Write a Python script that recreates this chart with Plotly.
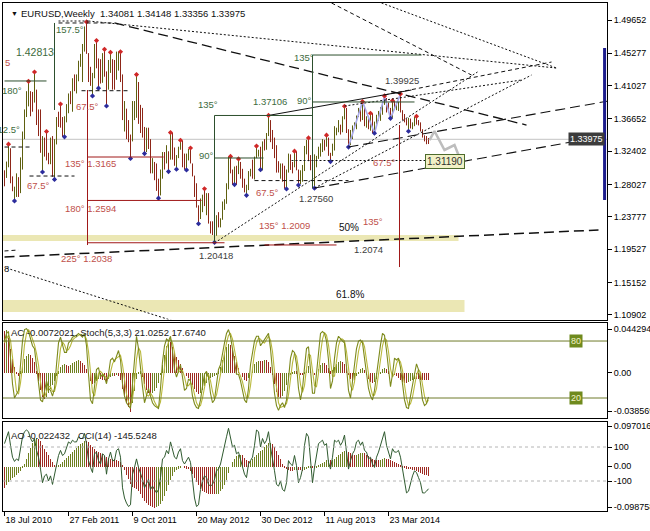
import plotly.graph_objects as go
from datetime import datetime, timedelta

FIRST_WEEK = datetime(2010, 7, 18)
SYMBOL = "EURUSD,Weekly"

opens = [
    1.2935, 1.2905, 1.3055, 1.3275, 1.2855, 1.2715, 1.2755, 1.2895, 1.2710, 1.3050,
    1.3490, 1.3790, 1.3950, 1.3980, 1.3960, 1.3945, 1.4030, 1.3700, 1.3670, 1.3240,
    1.3410, 1.3290, 1.3180, 1.3110, 1.3380, 1.2910, 1.3380, 1.3615, 1.3600, 1.3580,
    1.3500, 1.3690, 1.3750, 1.3990, 1.3900, 1.4180, 1.4090, 1.4230, 1.4430, 1.4430,
    1.4570, 1.4810, 1.4530, 1.4160, 1.4150, 1.4250, 1.4640, 1.4340, 1.4330, 1.4180,
    1.4500, 1.4250, 1.4150, 1.4380, 1.4400, 1.4280, 1.4240, 1.4400, 1.4500, 1.4200,
    1.3650, 1.3790, 1.3500, 1.3380, 1.3380, 1.3890, 1.3900, 1.4150, 1.3780, 1.3750,
    1.3520, 1.3240, 1.3450, 1.3380, 1.3040, 1.3050, 1.2960, 1.2720, 1.2680, 1.2940,
    1.3210, 1.3160, 1.3190, 1.3140, 1.3450, 1.3200, 1.3110, 1.3170, 1.3270, 1.3340,
    1.3090, 1.3080, 1.3200, 1.3240, 1.3080, 1.2920, 1.2780, 1.2510, 1.2410, 1.2510,
    1.2640, 1.2570, 1.2660, 1.2290, 1.2250, 1.2150, 1.2310, 1.2380, 1.2290, 1.2340,
    1.2520, 1.2580, 1.2810, 1.3120, 1.2970, 1.2860, 1.3040, 1.2950, 1.3020, 1.2940,
    1.2830, 1.2710, 1.2750, 1.2980, 1.2990, 1.2930, 1.3160, 1.3190, 1.3220, 1.3070,
    1.3360, 1.3310, 1.3460, 1.3640, 1.3360, 1.3360, 1.3190, 1.3020, 1.3000, 1.3070,
    1.2990, 1.2820, 1.2990, 1.3110, 1.3040, 1.3040, 1.3120, 1.2990, 1.2840, 1.2930,
    1.3000, 1.3220, 1.3340, 1.3120, 1.3010, 1.2830, 1.3070, 1.3140, 1.3280, 1.3280,
    1.3340, 1.3330, 1.3380, 1.3190, 1.3190, 1.3300, 1.3520, 1.3520, 1.3560, 1.3550,
    1.3680, 1.3800, 1.3490, 1.3370, 1.3490, 1.3560, 1.3590, 1.3700, 1.3740, 1.3670,
    1.3740, 1.3590, 1.3670, 1.3540, 1.3680, 1.3490, 1.3630, 1.3690, 1.3740, 1.3800,
    1.3870, 1.3910, 1.3790, 1.3750, 1.3700, 1.3880, 1.3810, 1.3830, 1.3870, 1.3760,
    1.3690, 1.3630, 1.3630, 1.3640, 1.3540, 1.3600, 1.3640, 1.3600, 1.3600, 1.3520,
    1.3430, 1.3420, 1.34081,
]
highs = [
    1.2990, 1.3105, 1.3334, 1.3280, 1.2910, 1.2775, 1.2950, 1.2900, 1.3160, 1.3500,
    1.3790, 1.4030, 1.4160, 1.4030, 1.4020, 1.4282, 1.4050, 1.3790, 1.3790, 1.3440,
    1.3420, 1.3500, 1.3220, 1.3420, 1.3440, 1.3400, 1.3690, 1.3760, 1.3860, 1.3690,
    1.3700, 1.3860, 1.4000, 1.4030, 1.4200, 1.4250, 1.4250, 1.4430, 1.4520, 1.4650,
    1.4880, 1.4940, 1.4530, 1.4350, 1.4270, 1.4650, 1.4695, 1.4460, 1.4450, 1.4530,
    1.4580, 1.4290, 1.4440, 1.4540, 1.4450, 1.4440, 1.4550, 1.4550, 1.4548, 1.4250,
    1.3900, 1.3800, 1.3650, 1.3460, 1.3900, 1.3900, 1.4248, 1.4150, 1.3850, 1.3810,
    1.3560, 1.3550, 1.3550, 1.3400, 1.3150, 1.3100, 1.3080, 1.2880, 1.3000, 1.3230,
    1.3230, 1.3320, 1.3240, 1.3486, 1.3480, 1.3290, 1.3190, 1.3300, 1.3385, 1.3380,
    1.3210, 1.3210, 1.3270, 1.3283, 1.3080, 1.2920, 1.2820, 1.2530, 1.2620, 1.2670,
    1.2748, 1.2690, 1.2690, 1.2320, 1.2320, 1.2320, 1.2400, 1.2440, 1.2360, 1.2580,
    1.2610, 1.2820, 1.3170, 1.3173, 1.3000, 1.3040, 1.3050, 1.3140, 1.3100, 1.3010,
    1.2880, 1.2800, 1.2980, 1.3010, 1.3130, 1.3170, 1.3309, 1.3260, 1.3300, 1.3370,
    1.3400, 1.3480, 1.3711, 1.3650, 1.3520, 1.3420, 1.3320, 1.3110, 1.3080, 1.3080,
    1.3050, 1.3000, 1.3210, 1.3200, 1.3100, 1.3242, 1.3240, 1.3000, 1.2990, 1.3060,
    1.3310, 1.3390, 1.3416, 1.3190, 1.3100, 1.3200, 1.3180, 1.3300, 1.3345, 1.3400,
    1.3390, 1.3452, 1.3420, 1.3220, 1.3340, 1.3570, 1.3550, 1.3650, 1.3590, 1.3700,
    1.3832, 1.3810, 1.3530, 1.3520, 1.3580, 1.3620, 1.3710, 1.3810, 1.3810, 1.3893,
    1.3820, 1.3700, 1.3700, 1.3740, 1.3740, 1.3630, 1.3720, 1.3770, 1.3820, 1.3880,
    1.3967, 1.3940, 1.3880, 1.3810, 1.3905, 1.3900, 1.3870, 1.3890, 1.3993, 1.3780,
    1.3730, 1.3670, 1.3680, 1.3670, 1.3620, 1.3690, 1.3700, 1.3650, 1.3620, 1.3530,
    1.3450, 1.3440, 1.34148,
]
lows = [
    1.2780, 1.2890, 1.3030, 1.2820, 1.2715, 1.2588, 1.2640, 1.2640, 1.2690, 1.3000,
    1.3400, 1.3690, 1.3830, 1.3700, 1.3760, 1.3880, 1.3585, 1.3440, 1.3220, 1.2968,
    1.3170, 1.3120, 1.3070, 1.3070, 1.2905, 1.2870, 1.3330, 1.3560, 1.3550, 1.3430,
    1.3430, 1.3620, 1.3740, 1.3860, 1.3760, 1.4030, 1.4000, 1.4160, 1.4350, 1.4150,
    1.4550, 1.4520, 1.4150, 1.4100, 1.3967, 1.4200, 1.4330, 1.4070, 1.4130, 1.4140,
    1.4220, 1.3835, 1.4050, 1.4270, 1.4050, 1.4050, 1.4180, 1.4300, 1.4150, 1.3650,
    1.3500, 1.3400, 1.3360, 1.3145, 1.3370, 1.3650, 1.3680, 1.3600, 1.3480, 1.3420,
    1.3210, 1.3230, 1.3270, 1.2950, 1.2950, 1.2860, 1.2720, 1.2624, 1.2660, 1.2880,
    1.3000, 1.3080, 1.2973, 1.3130, 1.3130, 1.3050, 1.3004, 1.3150, 1.3260, 1.3030,
    1.3000, 1.2995, 1.3120, 1.3080, 1.2910, 1.2640, 1.2500, 1.2288, 1.2350, 1.2440,
    1.2520, 1.2400, 1.2290, 1.2160, 1.2140, 1.2042, 1.2130, 1.2240, 1.2240, 1.2340,
    1.2470, 1.2550, 1.2740, 1.2950, 1.2800, 1.2802, 1.2800, 1.2940, 1.2880, 1.2760,
    1.2700, 1.2661, 1.2730, 1.2910, 1.2880, 1.2870, 1.3150, 1.3170, 1.2998, 1.2990,
    1.3250, 1.3260, 1.3440, 1.3360, 1.3270, 1.3150, 1.2960, 1.2960, 1.2880, 1.2840,
    1.2750, 1.2745, 1.2960, 1.2995, 1.2950, 1.3030, 1.2990, 1.2796, 1.2810, 1.2840,
    1.2980, 1.3200, 1.3110, 1.2990, 1.2800, 1.2755, 1.3030, 1.3140, 1.3170, 1.3230,
    1.3250, 1.3300, 1.3180, 1.3105, 1.3180, 1.3250, 1.3450, 1.3490, 1.3460, 1.3490,
    1.3660, 1.3480, 1.3296, 1.3320, 1.3400, 1.3540, 1.3530, 1.3690, 1.3630, 1.3650,
    1.3570, 1.3550, 1.3530, 1.3510, 1.3480, 1.3477, 1.3580, 1.3640, 1.3640, 1.3720,
    1.3850, 1.3750, 1.3750, 1.3673, 1.3680, 1.3790, 1.3780, 1.3770, 1.3750, 1.3650,
    1.3620, 1.3580, 1.3503, 1.3540, 1.3530, 1.3570, 1.3590, 1.3580, 1.3500, 1.3420,
    1.3370, 1.3333, 1.33356,
]
closes = [
    1.2905, 1.3055, 1.3275, 1.2855, 1.2715, 1.2755, 1.2895, 1.2710, 1.3050, 1.3490,
    1.3790, 1.3950, 1.3980, 1.3960, 1.3945, 1.4030, 1.3700, 1.3670, 1.3240, 1.3410,
    1.3290, 1.3180, 1.3110, 1.3380, 1.2910, 1.3380, 1.3615, 1.3600, 1.3580, 1.3500,
    1.3690, 1.3750, 1.3990, 1.3900, 1.4180, 1.4090, 1.4230, 1.4430, 1.4430, 1.4570,
    1.4810, 1.4530, 1.4160, 1.4150, 1.4250, 1.4640, 1.4340, 1.4330, 1.4180, 1.4500,
    1.4250, 1.4150, 1.4380, 1.4400, 1.4280, 1.4240, 1.4400, 1.4500, 1.4200, 1.3650,
    1.3790, 1.3500, 1.3380, 1.3380, 1.3890, 1.3900, 1.4150, 1.3780, 1.3750, 1.3520,
    1.3240, 1.3450, 1.3380, 1.3040, 1.3050, 1.2960, 1.2720, 1.2680, 1.2940, 1.3210,
    1.3160, 1.3190, 1.3140, 1.3450, 1.3200, 1.3110, 1.3170, 1.3270, 1.3340, 1.3090,
    1.3080, 1.3200, 1.3240, 1.3080, 1.2920, 1.2780, 1.2510, 1.2410, 1.2510, 1.2640,
    1.2570, 1.2660, 1.2290, 1.2250, 1.2150, 1.2310, 1.2380, 1.2290, 1.2340, 1.2520,
    1.2580, 1.2810, 1.3120, 1.2970, 1.2860, 1.3040, 1.2950, 1.3020, 1.2940, 1.2830,
    1.2710, 1.2750, 1.2980, 1.2990, 1.2930, 1.3160, 1.3190, 1.3220, 1.3070, 1.3360,
    1.3310, 1.3460, 1.3640, 1.3360, 1.3360, 1.3190, 1.3020, 1.3000, 1.3070, 1.2990,
    1.2820, 1.2990, 1.3110, 1.3040, 1.3040, 1.3120, 1.2990, 1.2840, 1.2930, 1.3000,
    1.3220, 1.3340, 1.3120, 1.3010, 1.2830, 1.3070, 1.3140, 1.3280, 1.3280, 1.3340,
    1.3330, 1.3380, 1.3190, 1.3190, 1.3300, 1.3520, 1.3520, 1.3560, 1.3550, 1.3680,
    1.3800, 1.3490, 1.3370, 1.3490, 1.3560, 1.3590, 1.3700, 1.3740, 1.3670, 1.3740,
    1.3590, 1.3670, 1.3540, 1.3680, 1.3490, 1.3630, 1.3690, 1.3740, 1.3800, 1.3870,
    1.3910, 1.3790, 1.3750, 1.3700, 1.3880, 1.3810, 1.3830, 1.3870, 1.3760, 1.3690,
    1.3630, 1.3630, 1.3640, 1.3540, 1.3600, 1.3640, 1.3600, 1.3600, 1.3520, 1.3430,
    1.3420, 1.3410, 1.33975,
]

high_fractals = [2, 12, 15, 21, 28, 41, 46, 50, 53, 58, 66, 83, 88, 93, 100, 113, 117,
                 126, 132, 145, 152, 161, 170, 179, 183, 190, 194, 198, 206]
low_fractals = [5, 19, 25, 30, 44, 47, 51, 63, 70, 77, 82, 86, 91, 97, 105, 115, 121,
                128, 141, 147, 155, 163, 172, 185, 193, 202]
zigzag_points = [(172, "L"), (179, "H"), (185, "L"), (190, "H"), (193, "L"), (198, "H")]

proj_weeks = [212.5, 215, 220, 225, 227]
proj_prices = [1.3388, 1.3506, 1.3257, 1.3322, 1.3191]

# Accelerator Oscillator, units of 0.0001
ac_e4 = [
    430, 440, 360, 250, 140, 60, 10, -30, 20, 80,
    140, 180, 200, 190, 160, 110, 20, -80, -170, -240,
    -260, -240, -200, -160, -120, -80, -30, 20, 60, 80,
    90, 80, 70, 80, 100, 110, 120, 130, 120, 100,
    80, 40, -20, -80, -110, -100, -80, -60, -60, -70,
    -70, -80, -60, -40, -30, -30, -20, -30, -70, -160,
    -240, -300, -340, -386, -300, -180, -60, 10, 20, -40,
    -110, -170, -200, -210, -200, -180, -150, -100, -20, 80,
    190, 280, 330, 320, 270, 220, 170, 130, 90, 50,
    0, -30, -50, -80, -120, -160, -190, -210, -200, -170,
    -130, -100, -70, -50, -40, -30, -10, 20, 60, 130,
    210, 270, 300, 290, 240, 180, 110, 50, 0, -40,
    -70, -80, -50, 0, 50, 90, 110, 120, 120, 120,
    130, 130, 110, 60, -20, -110, -190, -240, -250, -230,
    -180, -120, -60, -20, 10, 20, 20, 0, -20, -20,
    10, 50, 70, 40, 0, -20, 0, 40, 80, 100,
    100, 80, 50, 20, 30, 60, 90, 110, 120, 110,
    90, 50, -10, -60, -80, -70, -30, 10, 40, 50,
    30, -20, -60, -90, -100, -90, -60, -20, 10, 40,
    50, 40, 20, 0, -10, -20, -30, -50, -70, -90,
    -100, -100, -90, -80, -70, -60, -60, -60, -70, -70,
    -70, -72, -72.021,
]
stoch_k = [
    80, 88, 90, 65, 35, 20, 25, 28, 55, 80,
    92, 93, 90, 82, 75, 72, 55, 38, 18, 16,
    28, 38, 30, 28, 22, 30, 55, 78, 84, 75,
    68, 68, 78, 80, 84, 85, 86, 88, 86, 84,
    88, 75, 45, 18, 14, 35, 50, 52, 42, 45,
    42, 35, 45, 60, 62, 58, 65, 70, 60, 35,
    22, 15, 12, 9, 35, 62, 85, 72, 50, 32,
    15, 22, 30, 22, 15, 12, 10, 9, 30, 58,
    75, 82, 80, 85, 70, 50, 42, 50, 55, 42,
    28, 30, 40, 38, 22, 14, 10, 9, 18, 32,
    45, 48, 42, 25, 15, 18, 35, 50, 55, 68,
    78, 88, 92, 85, 70, 55, 45, 45, 38, 28,
    18, 15, 30, 55, 68, 80, 85, 85, 75, 78,
    82, 84, 88, 72, 48, 25, 12, 7, 12, 15,
    10, 18, 40, 62, 70, 68, 55, 30, 18, 30,
    52, 72, 74, 50, 25, 25, 45, 68, 88, 90,
    88, 80, 60, 30, 38, 62, 78, 85, 82, 80,
    78, 50, 28, 20, 35, 55, 72, 80, 81, 78,
    62, 45, 30, 22, 18, 28, 45, 62, 76, 88,
    86, 70, 50, 32, 45, 62, 60, 62, 52, 32,
    18, 10, 9, 22, 32, 45, 56, 50, 35, 18,
    12, 14, 21.0252,
]
stoch_d = [
    78, 83, 86, 81, 63, 40, 27, 24, 36, 54,
    76, 88, 92, 88, 82, 76, 67, 55, 37, 24,
    21, 27, 32, 32, 27, 27, 36, 54, 72, 79,
    76, 70, 71, 75, 81, 83, 85, 86, 87, 86,
    86, 82, 69, 46, 26, 22, 33, 46, 48, 46,
    43, 41, 41, 47, 56, 60, 62, 64, 65, 55,
    39, 24, 16, 12, 19, 35, 61, 73, 69, 51,
    32, 23, 22, 25, 22, 16, 12, 10, 16, 32,
    54, 72, 79, 82, 78, 68, 54, 47, 49, 49,
    42, 33, 33, 36, 33, 25, 15, 11, 12, 20,
    32, 42, 45, 38, 27, 19, 23, 34, 47, 58,
    67, 78, 86, 88, 82, 70, 57, 48, 43, 37,
    28, 20, 21, 33, 51, 68, 78, 83, 82, 79,
    78, 81, 85, 81, 69, 48, 28, 15, 10, 11,
    12, 14, 23, 40, 57, 67, 64, 51, 34, 26,
    33, 51, 66, 65, 50, 33, 32, 46, 67, 82,
    89, 86, 76, 57, 43, 43, 59, 75, 82, 82,
    80, 69, 52, 33, 28, 37, 54, 69, 78, 80,
    74, 62, 46, 32, 23, 23, 30, 45, 61, 75,
    83, 81, 69, 51, 42, 46, 56, 61, 58, 49,
    34, 20, 12, 14, 21, 33, 44, 50, 47, 34,
    22, 15, 17.6740,
]
# Awesome Oscillator, units of 0.0001
ao_e4 = [
    -520, -450, -380, -320, -280, -250, -210, -160, -100, -20,
    70, 190, 320, 440, 560, 660, 700, 680, 610, 520,
    430, 350, 270, 190, 110, 50, 20, 30, 60, 110,
    160, 200, 250, 300, 360, 410, 460, 500, 540, 580,
    620, 620, 590, 530, 470, 420, 380, 360, 330, 300,
    260, 230, 210, 195, 185, 175, 165, 140, 110, 20,
    -90, -200, -310, -410, -490, -520, -540, -600, -670, -750,
    -830, -880, -930, -960, -980, -988, -980, -960, -900, -820,
    -710, -580, -450, -330, -220, -140, -90, -45, -10, 0,
    -20, -45, -65, -110, -180, -270, -360, -450, -530, -580,
    -620, -640, -655, -665, -670, -670, -665, -650, -600, -540,
    -450, -320, -160, 0, 110, 195, 250, 280, 290, 270,
    215, 160, 130, 140, 185, 240, 290, 335, 370, 410,
    475, 530, 570, 575, 540, 475, 390, 280, 175, 65,
    -20, -65, -85, -95, -95, -85, -75, -75, -85, -95,
    -85, -65, -30, -10, -20, -30, -10, 20, 55, 85,
    120, 150, 160, 150, 160, 195, 240, 280, 315, 345,
    375, 385, 365, 325, 290, 270, 280, 300, 320, 335,
    325, 290, 250, 215, 185, 160, 150, 150, 160, 180,
    205, 195, 185, 165, 140, 120, 90, 55, 20, -10,
    -30, -45, -55, -65, -75, -85, -105, -125, -150, -170,
    -190, -210, -224.32,
]
cci = [
    120, 160, 190, 110, 40, 15, 30, 20, 90, 160,
    190, 200, 190, 150, 130, 150, 80, 40, -30, -110,
    -70, -60, -100, -70, -120, -60, 10, 50, 80, 50,
    60, 90, 130, 120, 140, 130, 130, 160, 150, 150,
    180, 120, 20, -20, -50, 60, 70, 20, 0, 60,
    50, -60, 30, 70, 20, 20, 80, 90, 40, -140,
    -200, -230, -250, -240, -60, -20, 30, -20, -50, -90,
    -140, -110, -90, -150, -130, -150, -170, -150, -80, 30,
    40, 80, 60, 130, 80, 40, 30, 70, 90, 20,
    0, 20, 40, 10, -100, -200, -250, -240, -150, -100,
    -70, -80, -120, -130, -120, -90, -40, -30, 0, 60,
    100, 160, 210, 150, 100, 110, 60, 70, 30, -20,
    -60, -80, 0, 20, 40, 110, 200, 190, 100, 150,
    120, 140, 190, 100, 40, -40, -120, -130, -100, -150,
    -160, -110, 20, 0, -10, 50, -10, -110, -80, -30,
    110, 180, 160, 20, -110, -20, 40, 120, 130, 140,
    110, 120, 10, -30, 40, 140, 130, 140, 110, 130,
    170, 60, -30, 20, 60, 80, 130, 140, 110, 130,
    80, 70, 30, 40, 0, -20, 40, 70, 110, 160,
    190, 110, 70, 30, 90, 70, 70, 80, 40, -40,
    -120, -170, -160, -110, -70, -40, -50, -80, -110, -170,
    -170, -160, -145.5248,
]

price_ticks = [1.49652, 1.45277, 1.41027, 1.36652, 1.32402, 1.28027, 1.23777, 1.19527, 1.15152, 1.10902]
ac_ticks = [0.044294, 0.0, -0.038569]
ao_ticks = [0.097016, 0.0, -0.098758]
stoch_levels = [80, 20]
cci_levels = [100, -100]
date_tick_weeks = [0, 32, 64, 96, 128, 160, 192]

GREEN_T = "#3d6b3d"
GREEN_L = "#2d4f2d"
RED_T = "#c0504a"
RED_L = "#a01818"
BLACK = "#101010"
DOT = "2px,2px"
DASH = "4px,3px"
LONG = "10px,5px"
FONT = "Liberation Sans, Arial, sans-serif"

# drawing objects: (week0, price0, week1, price1, color, dash, width)
drawn_lines = [
    (27, 1.4926, 55, 1.4926, BLACK, DASH, 1),
    (55, 1.4926, 261, 1.3585, BLACK, LONG, 1.3),
    (27, 1.4952, 42, 1.4952, BLACK, DOT, 1),
    (42, 1.4952, 276, 1.4334, BLACK, DOT, 1),
    (163.5, 1.5189, 233.5, 1.4242, BLACK, DASH, 1),
    (188.5, 1.5189, 276, 1.4334, BLACK, DOT, 1),
    (105, 1.2035, 236.5, 1.4282, BLACK, DOT, 1),
    (155, 1.2757, 263.5, 1.4242, BLACK, DOT, 1),
    (172, 1.3296, 302, 1.3901, BLACK, LONG, 1.1),
    (155, 1.2757, 283.5, 1.3362, BLACK, LONG, 1.1),
    (0, 1.1851, 297, 1.2206, BLACK, LONG, 1.5),
    (1, 1.1706, 86, 1.0997, BLACK, DOT, 1),
    (0, 1.1930, 7, 1.1943, BLACK, DASH, 1),
    (190, 1.3980, 273.5, 1.4413, BLACK, DASH, 1),
    (170, 1.3835, 258.5, 1.4177, BLACK, DOT, 1),
    (132, 1.3711, 203.5, 1.4045, BLACK, "solid", 1),
    (0, 1.4164, 21, 1.4164, GREEN_L, "solid", 1),
    (38.5, 1.4036, 62, 1.4036, BLACK, DASH, 1),
    (0, 1.3296, 13.5, 1.3296, BLACK, DASH, 1),
    (12.5, 1.2915, 35, 1.2915, BLACK, DASH, 1),
    (25, 1.4926, 25, 1.3783, GREEN_L, "solid", 1),
    (105, 1.37106, 154, 1.37106, GREEN_L, "solid", 1),
    (105, 1.3152, 129.5, 1.3152, GREEN_L, "solid", 1),
    (154, 1.3888, 205, 1.3888, GREEN_L, "solid", 1),
    (154, 1.4505, 208.5, 1.4505, GREEN_L, "solid", 1),
    (105, 1.37106, 105, 1.2042, GREEN_L, "solid", 1),
    (154, 1.4505, 154, 1.2757, GREEN_L, "solid", 1),
    (41.5, 1.4045, 41.5, 1.2008, RED_L, "solid", 1),
    (197.5, 1.3585, 197.5, 1.1719, RED_L, "solid", 1),
    (41.5, 1.3165, 79.5, 1.3165, RED_L, "solid", 1),
    (41.5, 1.2594, 98.5, 1.2594, RED_L, "solid", 1),
    (41.5, 1.2038, 110, 1.2038, RED_L, "solid", 1),
    (130, 1.2009, 166, 1.2009, RED_L, "solid", 1),
    (125, 1.2855, 172, 1.2855, BLACK, DASH, 1),
    (143.5, 1.3119, 211, 1.3119, BLACK, DOT, 1),
]
# fibonacci bands: (week0, week1, price_top, price_bottom)
fib_bands = [(-1, 227, 1.2140, 1.2061), (-1, 230, 1.1286, 1.1128)]

# text labels: (week, price, text, color, size)
labels = [
    (32.5, 1.4834, "157.5°", GREEN_T, 9.5),
    (15, 1.4545, "1.42813", GREEN_T, 10.5),
    (1.5, 1.4413, "5", RED_T, 9.5),
    (3.8, 1.4045, "180°", GREEN_T, 9.5),
    (41, 1.3835, "67.5°", RED_T, 9.5),
    (16.5, 1.2784, "67.5°", RED_T, 9.5),
    (43, 1.3086, "135° 1.3165", RED_T, 9.5),
    (43, 1.2482, "180° 1.2594", RED_T, 9.5),
    (41, 1.1825, "225° 1.2038", RED_T, 9.5),
    (101.5, 1.3861, "135°", GREEN_T, 9.5),
    (132.5, 1.3888, "1.37106", GREEN_T, 9.5),
    (101, 1.3191, "90°", GREEN_T, 9.5),
    (149.5, 1.4466, "135°", GREEN_T, 9.5),
    (150, 1.3901, "90°", GREEN_T, 9.5),
    (198.5, 1.4164, "1.39925", "#404040", 9.5),
    (131, 1.2705, "67.5°", RED_T, 9.5),
    (155.5, 1.2626, "1.27560", "#404040", 9.5),
    (140, 1.2271, "135° 1.2009", RED_T, 9.5),
    (105.5, 1.1877, "1.20418", "#404040", 9.5),
    (172, 1.2245, "50%", BLACK, 10),
    (184, 1.2311, "135°", RED_T, 9.5),
    (182, 1.1956, "1.2074", "#404040", 9.5),
    (172.5, 1.1352, "61.8%", BLACK, 10),
    (1, 1.1706, "8", BLACK, 9.5),
    (189.5, 1.3099, "67.5°", RED_T, 9.5),
]


def wk(i):
    return FIRST_WEEK + timedelta(days=7 * i)


n = len(closes)
dates = [wk(i) for i in range(n)]
x_range = [wk(-0.75), wk(301.25)]

fig = go.Figure()

zz_x = [dates[i] for i, k in zigzag_points]
zz_y = [highs[i] if k == "H" else lows[i] for i, k in zigzag_points]
fig.add_trace(go.Scatter(x=zz_x, y=zz_y, mode="lines", line=dict(color="#a9a9ea", width=1.6),
                         xaxis="x", yaxis="y", hoverinfo="skip"))

fig.add_trace(go.Ohlc(x=dates, open=opens, high=highs, low=lows, close=closes,
                      increasing=dict(line=dict(color="#5f6010", width=1)),
                      decreasing=dict(line=dict(color="#8e2618", width=1)),
                      tickwidth=0, xaxis="x", yaxis="y", hoverinfo="skip"))

fig.add_trace(go.Scatter(x=[wk(w) for w in proj_weeks], y=proj_prices, mode="lines",
                         line=dict(color="#bdbdbd", width=2.5), xaxis="x", yaxis="y", hoverinfo="skip"))

fig.add_trace(go.Scatter(x=[dates[i] for i in high_fractals], y=[highs[i] for i in high_fractals],
                         mode="markers", marker=dict(symbol="diamond", size=4, color="#d02828"),
                         xaxis="x", yaxis="y", hoverinfo="skip"))
fig.add_trace(go.Scatter(x=[dates[i] for i in low_fractals], y=[lows[i] for i in low_fractals],
                         mode="markers", marker=dict(symbol="diamond", size=4, color="#2c2c9c"),
                         xaxis="x", yaxis="y", hoverinfo="skip"))

UP = "#6f8020"
DN = "#9e2a22"
ac_vals = [v / 1e4 for v in ac_e4]
ao_vals = [v / 1e4 for v in ao_e4]
ac_cols = [UP if i > 0 and ac_vals[i] > ac_vals[i - 1] else DN for i in range(n)]
ao_cols = [UP if i > 0 and ao_vals[i] > ao_vals[i - 1] else DN for i in range(n)]
bar_w = 0.5 * 7 * 24 * 3600 * 1000

fig.add_trace(go.Bar(x=dates, y=ac_vals, marker=dict(color=ac_cols, line=dict(width=0)), width=bar_w,
                     xaxis="x2", yaxis="y2", hoverinfo="skip"))
fig.add_trace(go.Scatter(x=dates, y=stoch_d, mode="lines", line=dict(color="#b9b93c", width=1.1),
                         xaxis="x2", yaxis="y4", hoverinfo="skip"))
fig.add_trace(go.Scatter(x=dates, y=stoch_k, mode="lines", line=dict(color="#7d8a1c", width=1.1),
                         xaxis="x2", yaxis="y4", hoverinfo="skip"))

fig.add_trace(go.Bar(x=dates, y=ao_vals, marker=dict(color=ao_cols, line=dict(width=0)), width=bar_w,
                     xaxis="x3", yaxis="y3", hoverinfo="skip"))
fig.add_trace(go.Scatter(x=dates, y=cci, mode="lines", line=dict(color="#2f5a2f", width=1),
                         xaxis="x3", yaxis="y5", hoverinfo="skip"))

shapes = []
for w0, w1, pt, pb in fib_bands:
    shapes.append(dict(type="rect", xref="x", yref="y", x0=wk(w0), x1=wk(w1), y0=pb, y1=pt,
                       fillcolor="#ebe7b4", line=dict(width=0), layer="below"))
shapes.append(dict(type="line", xref="x domain", yref="y", x0=0, x1=1, y0=closes[-1], y1=closes[-1],
                   line=dict(color="#c4c4c4", width=1), layer="below"))
for w0, p0, w1, p1, col, dash, lw in drawn_lines:
    shapes.append(dict(type="line", xref="x", yref="y", x0=wk(w0), y0=p0, x1=wk(w1), y1=p1,
                       line=dict(color=col, width=lw, dash=dash)))
shapes.append(dict(type="line", xref="x domain", yref="y", x0=0.996, x1=0.996, y0=1.4597, y1=1.2600,
                   line=dict(color="#1c1c8c", width=3)))
for lv in stoch_levels:
    shapes.append(dict(type="line", xref="x2 domain", yref="y4", x0=0, x1=1, y0=lv, y1=lv,
                       line=dict(color="#6e7a2a", width=1)))
for lv in cci_levels:
    shapes.append(dict(type="line", xref="x3 domain", yref="y5", x0=0, x1=1, y0=lv, y1=lv,
                       line=dict(color="#b4b4b4", width=1, dash="3px,3px")))

annotations = []
for w, p, t, col, sz in labels:
    annotations.append(dict(x=wk(w), y=p, xref="x", yref="y", text=t, showarrow=False,
                            font=dict(family=FONT, size=sz, color=col)))
annotations.append(dict(x=wk(8.5), y=1.3520, xref="x", yref="y", text="112.5°", showarrow=False,
                        xanchor="right", font=dict(family=FONT, size=9.5, color=GREEN_T)))
annotations.append(dict(x=wk(220), y=1.3112, xref="x", yref="y", text="1.31190", showarrow=False,
                        bgcolor="#f1f1c6", bordercolor="#4d6b2d", borderwidth=1, borderpad=1,
                        font=dict(family=FONT, size=10, color="#303030")))
annotations.append(dict(x=6 / 650, y=1 - 10.5 / 531, xref="paper", yref="paper", text="▼", showarrow=False,
                        xanchor="left", yanchor="middle", font=dict(family=FONT, size=7, color=BLACK)))
annotations.append(dict(x=17 / 650, y=1 - 10.5 / 531, xref="paper", yref="paper",
                        text=f"{SYMBOL}  {opens[-1]:.5f} {highs[-1]:.5f} {lows[-1]:.5f} {closes[-1]:.5f}",
                        showarrow=False, xanchor="left", yanchor="middle",
                        font=dict(family=FONT, size=9.5, color=BLACK)))
annotations.append(dict(x=6 / 650, y=ac_ticks[0] * 0.93, xref="paper", yref="y2",
                        text=f"AC {ac_vals[-1]:.7f}, Stoch(5,3,3) {stoch_k[-1]:.4f} {stoch_d[-1]:.4f}",
                        showarrow=False, xanchor="left", font=dict(family=FONT, size=9.5, color="#202020")))
annotations.append(dict(x=6 / 650, y=ao_ticks[0] * 0.77, xref="paper", yref="y3",
                        text=f"AO {ao_vals[-1]:.6f}   CCI(14) {cci[-1]:.4f}",
                        showarrow=False, xanchor="left", font=dict(family=FONT, size=9.5, color="#202020")))
for lv in stoch_levels:
    annotations.append(dict(x=609 / 650, y=lv, xref="paper", yref="y4", text=str(lv), showarrow=False,
                            xanchor="left", bgcolor="#6f8a1e", borderpad=1,
                            font=dict(family=FONT, size=9, color="#f2f2c8")))
annotations.append(dict(x=608.5 / 650, y=closes[-1], xref="paper", yref="y", text=f"{closes[-1]:.5f}",
                        showarrow=False, xanchor="left", bgcolor="#3c3c3c", borderpad=1,
                        font=dict(family=FONT, size=9, color="#ffffff")))

ax_common = dict(showgrid=False, zeroline=False, showline=True, mirror=True, linecolor="#000000",
                 linewidth=1, automargin=False)
x_common = dict(type="date", range=x_range, showticklabels=False, ticks="", **ax_common)
tickfont = dict(family=FONT, size=9, color="#000000")

H = 531.0
def dom(top_px, bot_px, t=3, b=20):
    ph = H - t - b
    return [(H - b - bot_px) / ph, (H - b - top_px) / ph]

fig.update_layout(
    width=650, height=531, paper_bgcolor="white", plot_bgcolor="white",
    margin=dict(l=3, r=43, t=3, b=20, autoexpand=False), showlegend=False, bargap=0,
    font=dict(family=FONT, size=9.5, color="#000000"),
    xaxis=dict(domain=[0, 1], anchor="y", rangeslider=dict(visible=False), **x_common),
    xaxis2=dict(domain=[0, 1], anchor="y2", matches="x", **x_common),
    xaxis3=dict(domain=[0, 1], anchor="y3", matches="x", type="date", range=x_range,
                tickvals=[wk(i) for i in date_tick_weeks],
                ticktext=[f"{wk(i).day} {wk(i).strftime('%b %Y')}" for i in date_tick_weeks],
                ticks="outside", ticklen=4, tickcolor="#000000", ticklabelposition="outside right",
                tickangle=0, tickfont=tickfont, **ax_common),
    yaxis=dict(domain=dom(3, 319.5), anchor="x", side="right", range=[1.10296, 1.51886],
               tickvals=price_ticks, ticktext=[f"{v:.5f}" for v in price_ticks],
               ticks="outside", ticklen=4, tickcolor="#000000", tickfont=tickfont, **ax_common),
    yaxis2=dict(domain=dom(322.5, 418), anchor="x2", side="right", range=[-0.04564, 0.05086],
                tickvals=ac_ticks, ticktext=["0.044294", "0.00", "-0.038569"],
                ticks="outside", ticklen=4, tickcolor="#000000", tickfont=tickfont, **ax_common),
    yaxis4=dict(overlaying="y2", anchor="x2", side="right", range=[-1.05, 99.5], automargin=False,
                showticklabels=False, ticks="", showgrid=False, zeroline=False, showline=False),
    yaxis3=dict(domain=dom(421.5, 511), anchor="x3", side="right", range=[-0.10843, 0.10789],
                tickvals=ao_ticks, ticktext=["0.097016", "0.00", "-0.098758"],
                ticks="outside", ticklen=4, tickcolor="#000000", tickfont=tickfont, **ax_common),
    yaxis5=dict(overlaying="y3", anchor="x3", side="right", range=[-276.5, 250], automargin=False,
                tickvals=cci_levels, ticktext=[str(v) for v in cci_levels],
                ticks="outside", ticklen=4, tickcolor="#000000", tickfont=tickfont,
                showgrid=False, zeroline=False, showline=False),
    shapes=shapes, annotations=annotations,
)

fig.write_html("out.html", config={"displayModeBar": False},
               post_script="document.body.style.margin='0';document.body.style.overflow='hidden';")
